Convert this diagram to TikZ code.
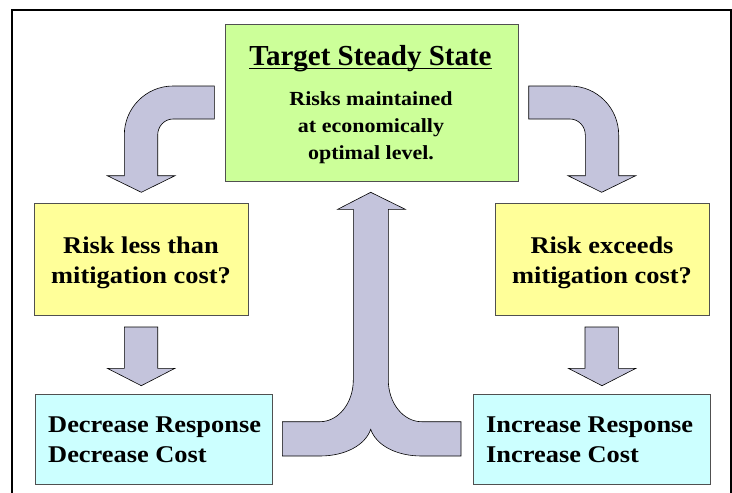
\documentclass[tikz,border=0pt]{standalone}
\usepackage{fontspec}
\setmainfont{Liberation Serif}
\newfontfamily\widefont[FakeStretch=1.1]{Liberation Serif}
\definecolor{greenc}{HTML}{CCFF99}
\definecolor{yellowc}{HTML}{FFFF99}
\definecolor{cyanc}{HTML}{CCFFFF}
\definecolor{arrowc}{HTML}{C4C4DC}
\definecolor{boxline}{HTML}{505050}
\begin{document}
\begin{tikzpicture}[x=1pt,y=-1pt,
  box/.style={draw=boxline, line width=0.9pt, inner sep=0pt, anchor=north west},
  blk/.style={fill=arrowc, draw=black, line width=0.6pt, line join=miter},
  ttl/.style={anchor=base, inner sep=0pt, font=\bfseries\fontsize{#1}{#1}\selectfont},
  txt/.style={anchor=base, inner sep=0pt, font=\widefont\bfseries\fontsize{#1}{#1}\selectfont},
  ltxt/.style={anchor=base west, inner sep=0pt, font=\widefont\bfseries\fontsize{#1}{#1}\selectfont}]
\useasboundingbox (0,0) rectangle (732,493);
\draw[line width=2pt] (12,494) -- (12,10) -- (731,10) -- (731,494);

% boxes
\node[box, fill=greenc, minimum width=293pt, minimum height=157pt] (target) at (225,24) {};
\node[box, fill=yellowc, minimum width=214pt, minimum height=112pt] (less) at (34,203) {};
\node[box, fill=yellowc, minimum width=214pt, minimum height=112pt] (exceeds) at (495,203) {};
\node[box, fill=cyanc, minimum width=237pt, minimum height=90pt] (decr) at (35,394) {};
\node[box, fill=cyanc, minimum width=237pt, minimum height=90pt] (incr) at (473,394) {};

% texts
\node[ttl=29] (t1) at (370.5,65) {Target Steady State};
\draw[line width=1.8pt] ([yshift=-3.5pt]t1.base west) -- ([yshift=-3.5pt]t1.base east);
\node[txt=20] (t2) at (371,105) {Risks maintained};
\node[txt=20] (t3) at (371,132) {at economically};
\node[txt=20] (t4) at (371,159) {optimal level.};
\node[txt=24] (l1) at (141,253) {Risk less than};
\node[txt=24] (l2) at (141,283) {mitigation cost?};
\node[txt=24] (r1) at (602,253) {Risk exceeds};
\node[txt=24] (r2) at (602,283) {mitigation cost?};
\node[ltxt=24] (d1) at (48,432) {Decrease Response};
\node[ltxt=24] (d2) at (48,462) {Decrease Cost};
\node[ltxt=24] (i1) at (486,432) {Increase Response};
\node[ltxt=24] (i2) at (486,462) {Increase Cost};

% curved block arrows from target
\draw[blk] (214.3,86) -- (173,86) arc[start angle=90, end angle=180, x radius=48.7, y radius=-49]
  -- (124.3,175.7) -- (107.3,175.7) -- (141.3,192.3) -- (175,175.7) -- (157.7,175.7)
  -- (157.7,135) arc[start angle=180, end angle=90, x radius=15.3, y radius=-16] -- (214.3,119) -- cycle;
\begin{scope}[xshift=743pt, xscale=-1]
\draw[blk] (214.3,86) -- (173,86) arc[start angle=90, end angle=180, x radius=48.7, y radius=-49]
  -- (124.3,175.7) -- (107.3,175.7) -- (141.3,192.3) -- (175,175.7) -- (157.7,175.7)
  -- (157.7,135) arc[start angle=180, end angle=90, x radius=15.3, y radius=-16] -- (214.3,119) -- cycle;
\end{scope}

% straight down arrows
\draw[blk] (124.3,327) -- (157.7,327) -- (157.7,368.3) -- (175,368.3) -- (141.3,385.7) -- (107.3,368.3) -- (124.3,368.3) -- cycle;
\draw[blk] (585,327) -- (618.3,327) -- (618.3,368.3) -- (636,368.3) -- (602,385.7) -- (568.3,368.3) -- (585,368.3) -- cycle;

% merging arrow back to target
\draw[blk] (370.7,192.3) -- (405.3,209.3) -- (388.3,209.3) -- (388.3,380)
  arc[start angle=180, end angle=270, x radius=33.3, y radius=-41.7]
  -- (461,421.7) -- (461,456) -- (421.4,456)
  .. controls (396,456) and (376,445) .. (370.7,429.3)
  .. controls (365.4,445) and (345.4,456) .. (320,456)
  -- (282.3,456) -- (282.3,421.7) -- (320,421.7)
  arc[start angle=270, end angle=360, x radius=33.3, y radius=-41.7]
  -- (353.3,209.3) -- (337.7,209.3) -- cycle;
\end{tikzpicture}
\end{document}
